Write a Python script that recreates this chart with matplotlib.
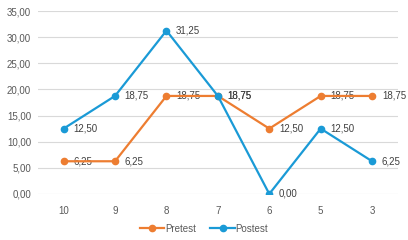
import matplotlib.pyplot as plt

categories = ['10', '9', '8', '7', '6', '5', '3']
pretest = [6.25, 6.25, 18.75, 18.75, 12.50, 18.75, 18.75]
postest = [12.50, 18.75, 31.25, 18.75, 0.00, 12.50, 6.25]
yticks = [0, 5, 10, 15, 20, 25, 30, 35]

orange = '#ED7D31'
blue = '#1A9AD6'
textc = '#595959'

plt.rcParams['font.family'] = ['Liberation Sans', 'DejaVu Sans']

fig = plt.figure(figsize=(4.08, 2.4), dpi=100)
ax = fig.add_axes([0.093, 0.192, 0.882, 0.762])

x = list(range(len(categories)))
ax.plot(x, pretest, color=orange, lw=1.6, marker='o', ms=4.5, label='Pretest', zorder=4)
ax.plot(x, postest, color=blue, lw=1.6, marker='o', ms=4.5, label='Postest', zorder=5)

def fmt(v):
    return f"{v:.2f}".replace('.', ',')

for series in (pretest, postest):
    for xi, v in zip(x, series):
        ax.annotate(fmt(v), (xi, v), xytext=(7, 0), textcoords='offset points',
                    va='center', ha='left', fontsize=7, color='#404040', zorder=3)

ax.set_xlim(-0.5, len(categories) - 0.5)
ax.set_ylim(0, 35)
ax.set_yticks(yticks)
ax.set_yticklabels([fmt(v) for v in yticks])
ax.set_xticks(x)
ax.set_xticklabels(categories)
ax.tick_params(axis='both', length=0, labelsize=7, colors=textc)
ax.tick_params(axis='x', pad=9)
ax.tick_params(axis='y', pad=5)
ax.grid(axis='y', color='#D9D9D9', lw=0.8)
ax.set_axisbelow(True)
for s in ax.spines.values():
    s.set_visible(False)

fig.legend(loc='lower center', ncol=2, frameon=False, fontsize=7,
           bbox_to_anchor=(0.5, -0.01), handlelength=2.5, columnspacing=1.5,
           labelcolor=textc, handletextpad=0.1)

fig.savefig('out.png', dpi=100)
